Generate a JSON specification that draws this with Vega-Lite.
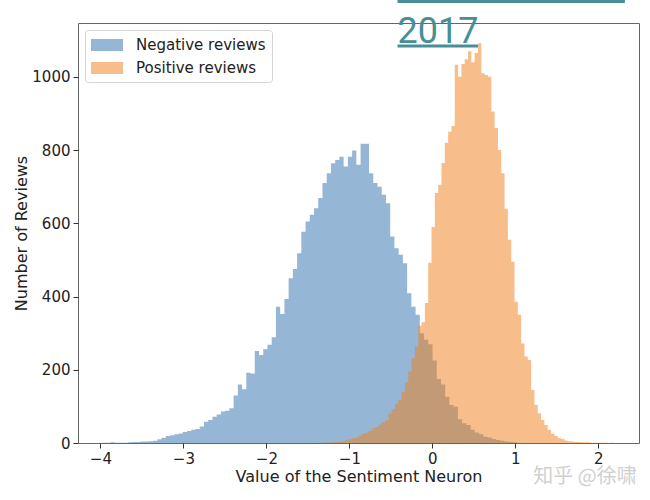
{
  "$schema": "https://vega.github.io/schema/vega-lite/v6.json",
  "width": 561,
  "height": 420,
  "autosize": {"type": "none"},
  "padding": {"left": 78, "top": 23, "right": 11, "bottom": 57},
  "background": "white",
  "config": {
    "font": "DejaVu Sans",
    "view": {"stroke": "#666", "strokeWidth": 1},
    "axis": {
      "grid": false,
      "domain": false,
      "ticks": true,
      "tickSize": 5,
      "tickColor": "#333",
      "labelFontSize": 15,
      "labelColor": "#222",
      "labelPadding": 3,
      "titleFontSize": 16,
      "titleFontWeight": "normal",
      "titleColor": "#222"
    },
    "legend": {
      "title": null,
      "orient": "top-left",
      "offset": 7,
      "padding": 6,
      "symbolType": "M-1,-0.67H2.56V0.67H-1Z",
      "symbolSize": 324,
      "symbolOpacity": 0.5,
      "symbolStrokeWidth": 0,
      "labelFontSize": 15,
      "labelColor": "#222",
      "labelOffset": 27,
      "rowPadding": 6,
      "fillColor": "rgba(255,255,255,0.8)",
      "strokeColor": "#d4d4d4",
      "cornerRadius": 3
    }
  },
  "datasets": {
    "bins": [
      {"series": "Negative reviews", "start": -3.976, "end": -3.925, "count": 1},
      {"series": "Negative reviews", "start": -3.925, "end": -3.874, "count": 1},
      {"series": "Negative reviews", "start": -3.874, "end": -3.823, "count": 2},
      {"series": "Negative reviews", "start": -3.823, "end": -3.772, "count": 1},
      {"series": "Negative reviews", "start": -3.772, "end": -3.721, "count": 1},
      {"series": "Negative reviews", "start": -3.721, "end": -3.670, "count": 1},
      {"series": "Negative reviews", "start": -3.670, "end": -3.619, "count": 2},
      {"series": "Negative reviews", "start": -3.619, "end": -3.568, "count": 3},
      {"series": "Negative reviews", "start": -3.568, "end": -3.517, "count": 3},
      {"series": "Negative reviews", "start": -3.517, "end": -3.466, "count": 4},
      {"series": "Negative reviews", "start": -3.466, "end": -3.415, "count": 4},
      {"series": "Negative reviews", "start": -3.415, "end": -3.364, "count": 5},
      {"series": "Negative reviews", "start": -3.364, "end": -3.313, "count": 6},
      {"series": "Negative reviews", "start": -3.313, "end": -3.262, "count": 10},
      {"series": "Negative reviews", "start": -3.262, "end": -3.211, "count": 14},
      {"series": "Negative reviews", "start": -3.211, "end": -3.160, "count": 19},
      {"series": "Negative reviews", "start": -3.160, "end": -3.109, "count": 21},
      {"series": "Negative reviews", "start": -3.109, "end": -3.058, "count": 24},
      {"series": "Negative reviews", "start": -3.058, "end": -3.007, "count": 26},
      {"series": "Negative reviews", "start": -3.007, "end": -2.956, "count": 30},
      {"series": "Negative reviews", "start": -2.956, "end": -2.905, "count": 33},
      {"series": "Negative reviews", "start": -2.905, "end": -2.854, "count": 36},
      {"series": "Negative reviews", "start": -2.854, "end": -2.803, "count": 38},
      {"series": "Negative reviews", "start": -2.803, "end": -2.752, "count": 45},
      {"series": "Negative reviews", "start": -2.752, "end": -2.701, "count": 58},
      {"series": "Negative reviews", "start": -2.701, "end": -2.650, "count": 63},
      {"series": "Negative reviews", "start": -2.650, "end": -2.599, "count": 72},
      {"series": "Negative reviews", "start": -2.599, "end": -2.548, "count": 78},
      {"series": "Negative reviews", "start": -2.548, "end": -2.497, "count": 86},
      {"series": "Negative reviews", "start": -2.497, "end": -2.446, "count": 88},
      {"series": "Negative reviews", "start": -2.446, "end": -2.395, "count": 95},
      {"series": "Negative reviews", "start": -2.395, "end": -2.344, "count": 130},
      {"series": "Negative reviews", "start": -2.344, "end": -2.293, "count": 160},
      {"series": "Negative reviews", "start": -2.293, "end": -2.242, "count": 147},
      {"series": "Negative reviews", "start": -2.242, "end": -2.191, "count": 192},
      {"series": "Negative reviews", "start": -2.191, "end": -2.140, "count": 190},
      {"series": "Negative reviews", "start": -2.140, "end": -2.089, "count": 251},
      {"series": "Negative reviews", "start": -2.089, "end": -2.038, "count": 240},
      {"series": "Negative reviews", "start": -2.038, "end": -1.987, "count": 256},
      {"series": "Negative reviews", "start": -1.987, "end": -1.936, "count": 268},
      {"series": "Negative reviews", "start": -1.936, "end": -1.885, "count": 289},
      {"series": "Negative reviews", "start": -1.885, "end": -1.834, "count": 372},
      {"series": "Negative reviews", "start": -1.834, "end": -1.783, "count": 352},
      {"series": "Negative reviews", "start": -1.783, "end": -1.732, "count": 393},
      {"series": "Negative reviews", "start": -1.732, "end": -1.681, "count": 450},
      {"series": "Negative reviews", "start": -1.681, "end": -1.630, "count": 475},
      {"series": "Negative reviews", "start": -1.630, "end": -1.579, "count": 518},
      {"series": "Negative reviews", "start": -1.579, "end": -1.528, "count": 577},
      {"series": "Negative reviews", "start": -1.528, "end": -1.477, "count": 605},
      {"series": "Negative reviews", "start": -1.477, "end": -1.426, "count": 623},
      {"series": "Negative reviews", "start": -1.426, "end": -1.375, "count": 641},
      {"series": "Negative reviews", "start": -1.375, "end": -1.324, "count": 669},
      {"series": "Negative reviews", "start": -1.324, "end": -1.273, "count": 710},
      {"series": "Negative reviews", "start": -1.273, "end": -1.222, "count": 737},
      {"series": "Negative reviews", "start": -1.222, "end": -1.171, "count": 764},
      {"series": "Negative reviews", "start": -1.171, "end": -1.120, "count": 773},
      {"series": "Negative reviews", "start": -1.120, "end": -1.069, "count": 782},
      {"series": "Negative reviews", "start": -1.069, "end": -1.018, "count": 755},
      {"series": "Negative reviews", "start": -1.018, "end": -0.967, "count": 782},
      {"series": "Negative reviews", "start": -0.967, "end": -0.916, "count": 799},
      {"series": "Negative reviews", "start": -0.916, "end": -0.865, "count": 760},
      {"series": "Negative reviews", "start": -0.865, "end": -0.814, "count": 817},
      {"series": "Negative reviews", "start": -0.814, "end": -0.763, "count": 817},
      {"series": "Negative reviews", "start": -0.763, "end": -0.712, "count": 737},
      {"series": "Negative reviews", "start": -0.712, "end": -0.661, "count": 710},
      {"series": "Negative reviews", "start": -0.661, "end": -0.610, "count": 700},
      {"series": "Negative reviews", "start": -0.610, "end": -0.559, "count": 678},
      {"series": "Negative reviews", "start": -0.559, "end": -0.508, "count": 655},
      {"series": "Negative reviews", "start": -0.508, "end": -0.457, "count": 564},
      {"series": "Negative reviews", "start": -0.457, "end": -0.406, "count": 532},
      {"series": "Negative reviews", "start": -0.406, "end": -0.355, "count": 514},
      {"series": "Negative reviews", "start": -0.355, "end": -0.304, "count": 491},
      {"series": "Negative reviews", "start": -0.304, "end": -0.253, "count": 409},
      {"series": "Negative reviews", "start": -0.253, "end": -0.202, "count": 372},
      {"series": "Negative reviews", "start": -0.202, "end": -0.151, "count": 350},
      {"series": "Negative reviews", "start": -0.151, "end": -0.100, "count": 300},
      {"series": "Negative reviews", "start": -0.100, "end": -0.049, "count": 282},
      {"series": "Negative reviews", "start": -0.049, "end": 0.002, "count": 270},
      {"series": "Negative reviews", "start": 0.002, "end": 0.053, "count": 225},
      {"series": "Negative reviews", "start": 0.053, "end": 0.104, "count": 175},
      {"series": "Negative reviews", "start": 0.104, "end": 0.155, "count": 160},
      {"series": "Negative reviews", "start": 0.155, "end": 0.206, "count": 126},
      {"series": "Negative reviews", "start": 0.206, "end": 0.257, "count": 104},
      {"series": "Negative reviews", "start": 0.257, "end": 0.308, "count": 99},
      {"series": "Negative reviews", "start": 0.308, "end": 0.359, "count": 65},
      {"series": "Negative reviews", "start": 0.359, "end": 0.410, "count": 54},
      {"series": "Negative reviews", "start": 0.410, "end": 0.461, "count": 49},
      {"series": "Negative reviews", "start": 0.461, "end": 0.512, "count": 36},
      {"series": "Negative reviews", "start": 0.512, "end": 0.563, "count": 29},
      {"series": "Negative reviews", "start": 0.563, "end": 0.614, "count": 24},
      {"series": "Negative reviews", "start": 0.614, "end": 0.665, "count": 17},
      {"series": "Negative reviews", "start": 0.665, "end": 0.716, "count": 15},
      {"series": "Negative reviews", "start": 0.716, "end": 0.767, "count": 11},
      {"series": "Negative reviews", "start": 0.767, "end": 0.818, "count": 8},
      {"series": "Negative reviews", "start": 0.818, "end": 0.869, "count": 6},
      {"series": "Negative reviews", "start": 0.869, "end": 0.920, "count": 4},
      {"series": "Negative reviews", "start": 0.920, "end": 0.971, "count": 3},
      {"series": "Negative reviews", "start": 0.971, "end": 1.022, "count": 2},
      {"series": "Negative reviews", "start": 1.022, "end": 1.073, "count": 1},
      {"series": "Negative reviews", "start": 1.073, "end": 1.124, "count": 1},
      {"series": "Positive reviews", "start": -1.49, "end": -1.45, "count": 0},
      {"series": "Positive reviews", "start": -1.45, "end": -1.41, "count": 1},
      {"series": "Positive reviews", "start": -1.41, "end": -1.37, "count": 0},
      {"series": "Positive reviews", "start": -1.37, "end": -1.33, "count": 1},
      {"series": "Positive reviews", "start": -1.33, "end": -1.29, "count": 1},
      {"series": "Positive reviews", "start": -1.29, "end": -1.25, "count": 2},
      {"series": "Positive reviews", "start": -1.25, "end": -1.21, "count": 1},
      {"series": "Positive reviews", "start": -1.21, "end": -1.17, "count": 2},
      {"series": "Positive reviews", "start": -1.17, "end": -1.13, "count": 3},
      {"series": "Positive reviews", "start": -1.13, "end": -1.09, "count": 3},
      {"series": "Positive reviews", "start": -1.09, "end": -1.05, "count": 5},
      {"series": "Positive reviews", "start": -1.05, "end": -1.01, "count": 8},
      {"series": "Positive reviews", "start": -1.01, "end": -0.97, "count": 10},
      {"series": "Positive reviews", "start": -0.97, "end": -0.93, "count": 13},
      {"series": "Positive reviews", "start": -0.93, "end": -0.89, "count": 15},
      {"series": "Positive reviews", "start": -0.89, "end": -0.85, "count": 20},
      {"series": "Positive reviews", "start": -0.85, "end": -0.81, "count": 25},
      {"series": "Positive reviews", "start": -0.81, "end": -0.77, "count": 28},
      {"series": "Positive reviews", "start": -0.77, "end": -0.73, "count": 33},
      {"series": "Positive reviews", "start": -0.73, "end": -0.69, "count": 40},
      {"series": "Positive reviews", "start": -0.69, "end": -0.65, "count": 44},
      {"series": "Positive reviews", "start": -0.65, "end": -0.61, "count": 50},
      {"series": "Positive reviews", "start": -0.61, "end": -0.57, "count": 57},
      {"series": "Positive reviews", "start": -0.57, "end": -0.53, "count": 62},
      {"series": "Positive reviews", "start": -0.53, "end": -0.49, "count": 80},
      {"series": "Positive reviews", "start": -0.49, "end": -0.45, "count": 92},
      {"series": "Positive reviews", "start": -0.45, "end": -0.41, "count": 107},
      {"series": "Positive reviews", "start": -0.41, "end": -0.37, "count": 118},
      {"series": "Positive reviews", "start": -0.37, "end": -0.33, "count": 140},
      {"series": "Positive reviews", "start": -0.33, "end": -0.29, "count": 165},
      {"series": "Positive reviews", "start": -0.29, "end": -0.25, "count": 195},
      {"series": "Positive reviews", "start": -0.25, "end": -0.21, "count": 232},
      {"series": "Positive reviews", "start": -0.21, "end": -0.17, "count": 263},
      {"series": "Positive reviews", "start": -0.17, "end": -0.13, "count": 320},
      {"series": "Positive reviews", "start": -0.13, "end": -0.09, "count": 330},
      {"series": "Positive reviews", "start": -0.09, "end": -0.05, "count": 382},
      {"series": "Positive reviews", "start": -0.05, "end": -0.01, "count": 492},
      {"series": "Positive reviews", "start": -0.01, "end": 0.03, "count": 590},
      {"series": "Positive reviews", "start": 0.03, "end": 0.07, "count": 683},
      {"series": "Positive reviews", "start": 0.07, "end": 0.11, "count": 705},
      {"series": "Positive reviews", "start": 0.11, "end": 0.15, "count": 765},
      {"series": "Positive reviews", "start": 0.15, "end": 0.19, "count": 820},
      {"series": "Positive reviews", "start": 0.19, "end": 0.23, "count": 850},
      {"series": "Positive reviews", "start": 0.23, "end": 0.27, "count": 866},
      {"series": "Positive reviews", "start": 0.27, "end": 0.31, "count": 1033},
      {"series": "Positive reviews", "start": 0.31, "end": 0.35, "count": 1000},
      {"series": "Positive reviews", "start": 0.35, "end": 0.39, "count": 1035},
      {"series": "Positive reviews", "start": 0.39, "end": 0.43, "count": 1048},
      {"series": "Positive reviews", "start": 0.43, "end": 0.47, "count": 1070},
      {"series": "Positive reviews", "start": 0.47, "end": 0.51, "count": 1040},
      {"series": "Positive reviews", "start": 0.51, "end": 0.55, "count": 1065},
      {"series": "Positive reviews", "start": 0.55, "end": 0.59, "count": 1092},
      {"series": "Positive reviews", "start": 0.59, "end": 0.63, "count": 1010},
      {"series": "Positive reviews", "start": 0.63, "end": 0.67, "count": 1005},
      {"series": "Positive reviews", "start": 0.67, "end": 0.71, "count": 1000},
      {"series": "Positive reviews", "start": 0.71, "end": 0.75, "count": 905},
      {"series": "Positive reviews", "start": 0.75, "end": 0.79, "count": 860},
      {"series": "Positive reviews", "start": 0.79, "end": 0.83, "count": 800},
      {"series": "Positive reviews", "start": 0.83, "end": 0.87, "count": 737},
      {"series": "Positive reviews", "start": 0.87, "end": 0.91, "count": 640},
      {"series": "Positive reviews", "start": 0.91, "end": 0.95, "count": 555},
      {"series": "Positive reviews", "start": 0.95, "end": 0.99, "count": 495},
      {"series": "Positive reviews", "start": 0.99, "end": 1.03, "count": 386},
      {"series": "Positive reviews", "start": 1.03, "end": 1.07, "count": 350},
      {"series": "Positive reviews", "start": 1.07, "end": 1.11, "count": 272},
      {"series": "Positive reviews", "start": 1.11, "end": 1.15, "count": 236},
      {"series": "Positive reviews", "start": 1.15, "end": 1.19, "count": 227},
      {"series": "Positive reviews", "start": 1.19, "end": 1.23, "count": 145},
      {"series": "Positive reviews", "start": 1.23, "end": 1.27, "count": 104},
      {"series": "Positive reviews", "start": 1.27, "end": 1.31, "count": 81},
      {"series": "Positive reviews", "start": 1.31, "end": 1.35, "count": 63},
      {"series": "Positive reviews", "start": 1.35, "end": 1.39, "count": 49},
      {"series": "Positive reviews", "start": 1.39, "end": 1.43, "count": 36},
      {"series": "Positive reviews", "start": 1.43, "end": 1.47, "count": 25},
      {"series": "Positive reviews", "start": 1.47, "end": 1.51, "count": 20},
      {"series": "Positive reviews", "start": 1.51, "end": 1.55, "count": 13},
      {"series": "Positive reviews", "start": 1.55, "end": 1.59, "count": 11},
      {"series": "Positive reviews", "start": 1.59, "end": 1.63, "count": 7},
      {"series": "Positive reviews", "start": 1.63, "end": 1.67, "count": 5},
      {"series": "Positive reviews", "start": 1.67, "end": 1.71, "count": 4},
      {"series": "Positive reviews", "start": 1.71, "end": 1.75, "count": 3},
      {"series": "Positive reviews", "start": 1.75, "end": 1.79, "count": 3},
      {"series": "Positive reviews", "start": 1.79, "end": 1.83, "count": 2},
      {"series": "Positive reviews", "start": 1.83, "end": 1.87, "count": 2},
      {"series": "Positive reviews", "start": 1.87, "end": 1.91, "count": 2},
      {"series": "Positive reviews", "start": 1.91, "end": 1.95, "count": 1},
      {"series": "Positive reviews", "start": 1.95, "end": 1.99, "count": 1},
      {"series": "Positive reviews", "start": 1.99, "end": 2.03, "count": 1},
      {"series": "Positive reviews", "start": 2.03, "end": 2.07, "count": 1},
      {"series": "Positive reviews", "start": 2.07, "end": 2.11, "count": 1},
      {"series": "Positive reviews", "start": 2.11, "end": 2.15, "count": 0},
      {"series": "Positive reviews", "start": 2.15, "end": 2.19, "count": 1},
      {"series": "Positive reviews", "start": 2.19, "end": 2.23, "count": 1}
    ]
  },
  "layer": [
    {
      "data": {"name": "bins"},
      "mark": {"type": "area", "interpolate": "step-after", "opacity": 0.5, "orient": "vertical"},
      "encoding": {
        "x": {
          "field": "start",
          "type": "quantitative",
          "scale": {"domain": [-4.27, 2.49], "nice": false, "zero": false},
          "axis": {
            "values": [-4, -3, -2, -1, 0, 1, 2],
            "format": "d",
            "labelExpr": "replace(datum.label, '-', '\u2212')",
            "titlePadding": 2
          },
          "title": "Value of the Sentiment Neuron"
        },
        "y": {
          "field": "count",
          "type": "quantitative",
          "stack": null,
          "scale": {"domain": [0, 1147], "nice": false},
          "axis": {"values": [0, 200, 400, 600, 800, 1000], "format": "d", "titlePadding": 2},
          "title": "Number of Reviews"
        },
        "y2": {"datum": 0},
        "color": {
          "field": "series",
          "type": "nominal",
          "scale": {
            "domain": ["Negative reviews", "Positive reviews"],
            "range": ["#2c70ab", "#f07d18"]
          }
        }
      }
    },
    {
      "data": {"values": [{}]},
      "mark": {"type": "rule", "color": "#478e96", "strokeWidth": 3},
      "encoding": {
        "x": {"datum": -0.42},
        "x2": {"datum": 0.55},
        "y": {"datum": 1084}
      }
    },
    {
      "data": {"values": [{}]},
      "mark": {"type": "rule", "color": "#478e96", "strokeWidth": 4},
      "encoding": {
        "x": {"datum": -0.42},
        "x2": {"datum": 2.32},
        "y": {"datum": 1207}
      }
    },
    {
      "data": {"values": [{}]},
      "mark": {
        "type": "text",
        "text": "2017",
        "font": "Roboto",
        "fontSize": 36,
        "color": "#478e96",
        "align": "left",
        "baseline": "alphabetic"
      },
      "encoding": {
        "x": {"datum": -0.42},
        "y": {"datum": 1093}
      }
    },
    {
      "data": {"values": [{}]},
      "mark": {
        "type": "text",
        "text": "知乎 @徐啸",
        "font": "Noto Sans CJK SC",
        "fontSize": 20,
        "color": "#d0d0d0",
        "align": "center",
        "baseline": "middle"
      },
      "encoding": {
        "x": {"datum": 1.84},
        "y": {"datum": -93}
      }
    }
  ]
}
